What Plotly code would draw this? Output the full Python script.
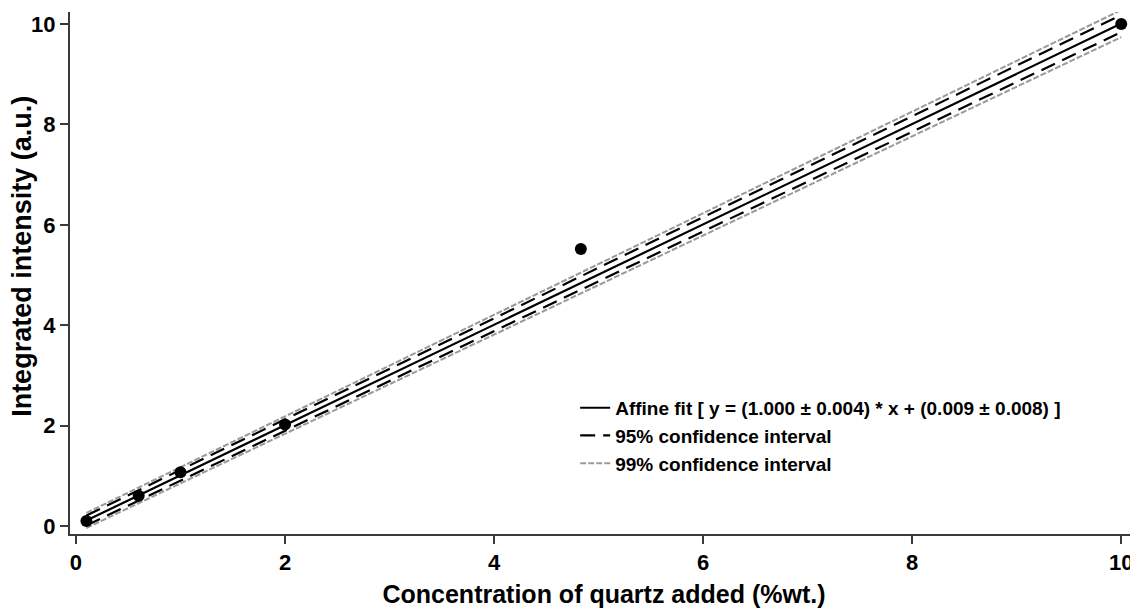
import plotly.graph_objects as go

# Measured data
conc = [0.1, 0.6, 1.0, 2.0, 4.83, 10.0]
intensity = [0.1, 0.6, 1.07, 2.02, 5.52, 10.0]

# Fit line and confidence bands (end points)
fit_x = [0.1, 10.0]
fit_y = [0.109, 10.009]
ci95_upper = [0.21, 10.18]
ci95_lower = [0.01, 9.84]
ci99_upper = [0.26, 10.28]
ci99_lower = [-0.04, 9.74]

x_title = "Concentration of quartz added (%wt.)"
y_title = "Integrated intensity (a.u.)"

font_family = "Liberation Sans, Arial, sans-serif"
axis_color = "#3a3a3a"

fig = go.Figure()
fig.add_trace(go.Scatter(x=fit_x, y=fit_y, mode="lines",
                         line=dict(color="black", width=2.2),
                         name="Affine fit [ y = (1.000 ± 0.004) * x + (0.009 ± 0.008) ]"))
fig.add_trace(go.Scatter(x=fit_x, y=ci95_upper, mode="lines",
                         line=dict(color="black", width=2.2, dash="15px,8px"),
                         name="95% confidence interval", legendgroup="95"))
fig.add_trace(go.Scatter(x=fit_x, y=ci95_lower, mode="lines",
                         line=dict(color="black", width=2.2, dash="15px,8px"),
                         name="95% confidence interval", legendgroup="95", showlegend=False))
fig.add_trace(go.Scatter(x=fit_x, y=ci99_upper, mode="lines",
                         line=dict(color="#9a9a9a", width=2, dash="6px,2px"),
                         name="99% confidence interval", legendgroup="99"))
fig.add_trace(go.Scatter(x=fit_x, y=ci99_lower, mode="lines",
                         line=dict(color="#9a9a9a", width=2, dash="6px,2px"),
                         name="99% confidence interval", legendgroup="99", showlegend=False))
fig.add_trace(go.Scatter(x=conc, y=intensity, mode="markers",
                         marker=dict(color="black", size=12),
                         name="data", showlegend=False))

fig.update_layout(
    width=1130, height=600,
    margin=dict(l=62, r=0, t=4, b=74),
    paper_bgcolor="white", plot_bgcolor="white",
    font=dict(family=font_family, color="black", size=16, weight="bold"),
    showlegend=True,
    legend=dict(x=0.473, y=0.278, xanchor="left", yanchor="top",
                bgcolor="rgba(0,0,0,0)", font=dict(size=19, weight="bold"),
                tracegroupgap=0),
    annotations=[dict(text=y_title, xref="paper", yref="paper",
                      x=-0.0449, y=0.531, xanchor="center", yanchor="middle",
                      textangle=-90, showarrow=False,
                      font=dict(size=27, weight="bold", color="black"))],
)
fig.update_xaxes(range=[-0.057, 10.16], showgrid=False, zeroline=False,
                 automargin=False,
                 showline=True, linecolor=axis_color, linewidth=2,
                 ticks="outside", ticklen=8, tickwidth=2, tickcolor=axis_color,
                 tickvals=[0, 2, 4, 6, 8, 10],
                 tickfont=dict(size=22, weight="bold"),
                 title=dict(text=x_title,
                            font=dict(size=25, weight="bold"), standoff=17))
fig.update_yaxes(range=[-0.16, 10.24], showgrid=False, zeroline=False,
                 automargin=False,
                 showline=True, linecolor=axis_color, linewidth=2,
                 ticks="outside", ticklen=8, tickwidth=2, tickcolor=axis_color,
                 tickvals=[0, 2, 4, 6, 8, 10],
                 tickfont=dict(size=22, weight="bold"))

fig.write_html("out.html")
